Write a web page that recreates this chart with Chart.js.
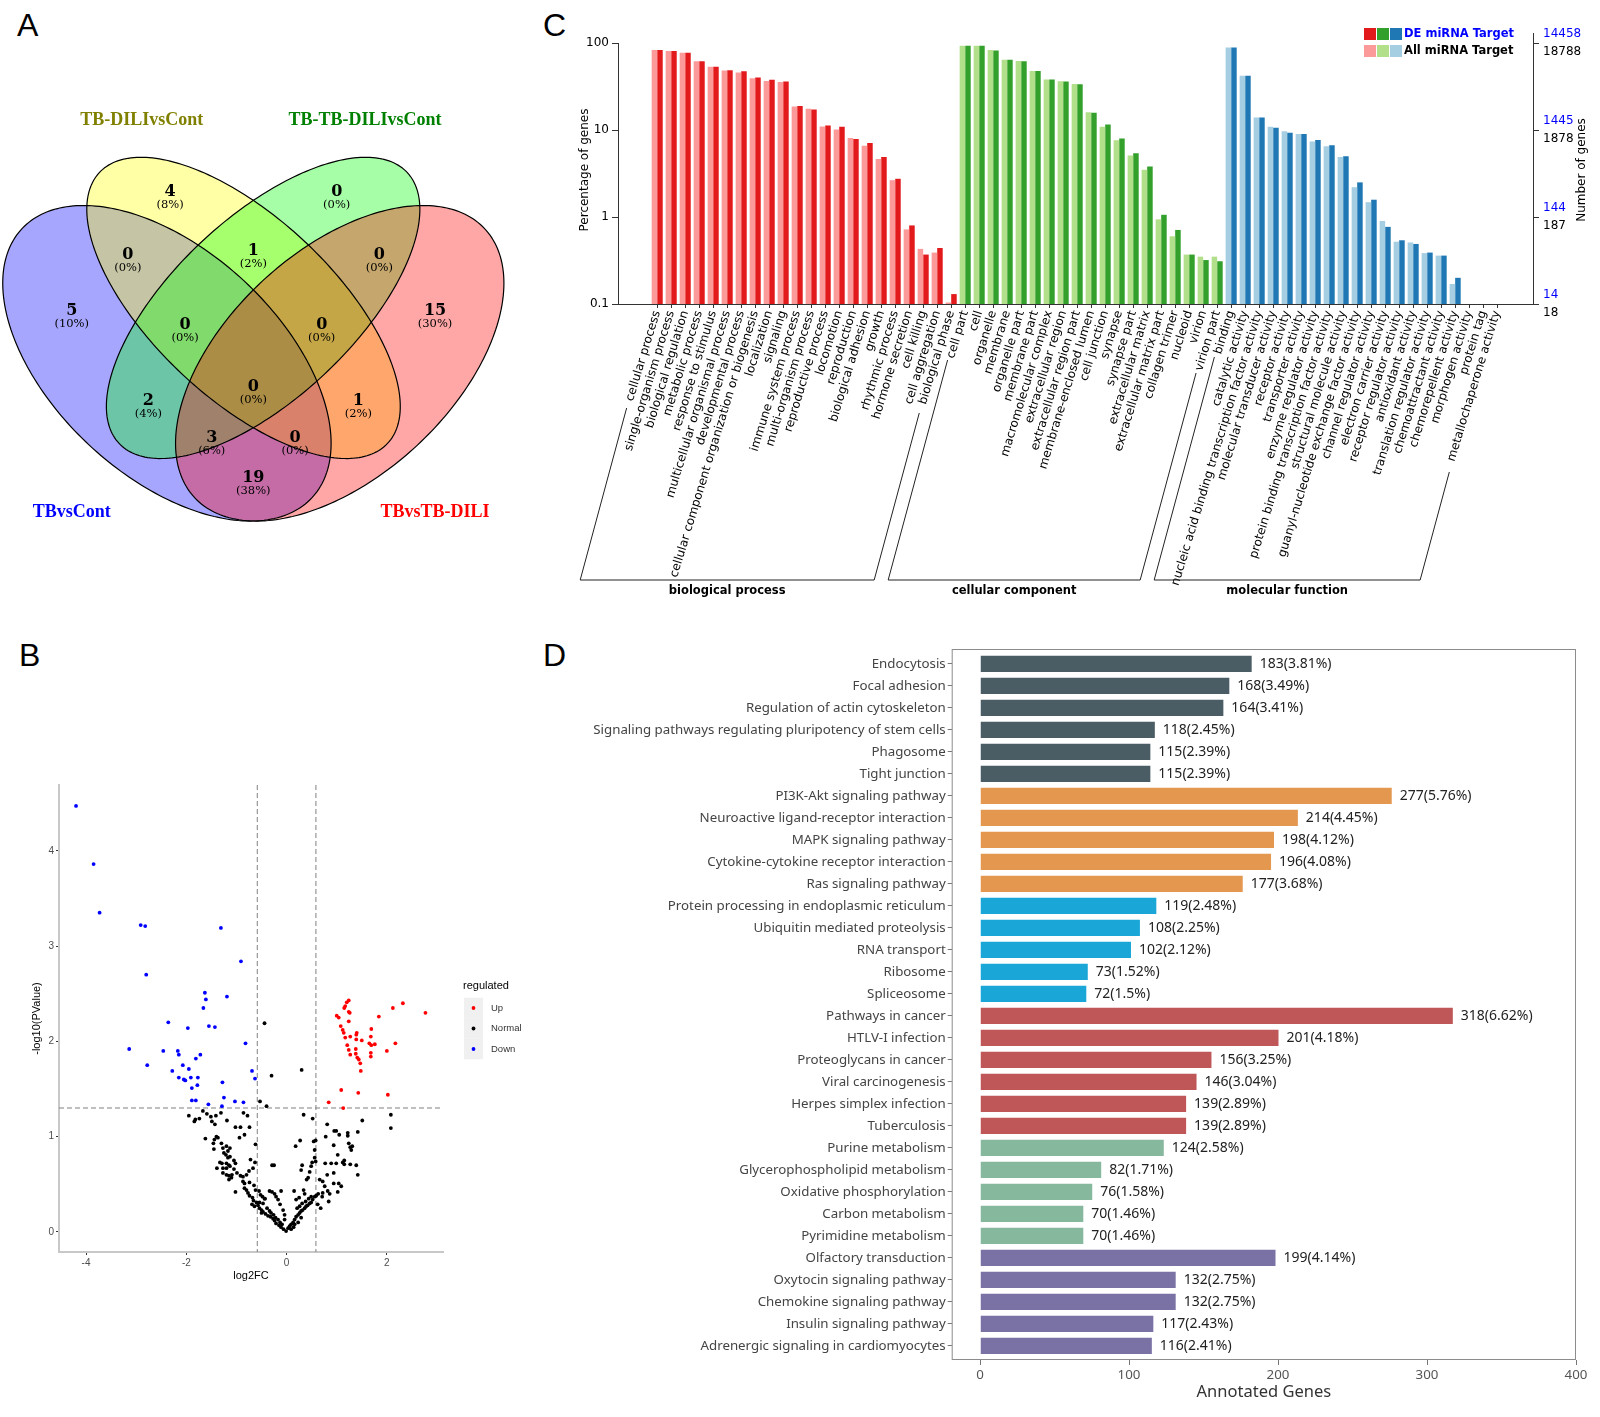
<!DOCTYPE html>
<html>
<head>
<meta charset="utf-8">
<title>miRNA target figure</title>
<script src="https://cdn.jsdelivr.net/npm/chart.js@4.4.0/dist/chart.umd.min.js"></script>
<style>
  body { margin: 0; background: #fff; width: 1600px; height: 1417px; position: relative; overflow: hidden; }
  .box { position: absolute; }
  .tag { position: absolute; font: 32px "Liberation Sans", Arial, sans-serif; color: #000; }
</style>
</head>
<body>
<div class="tag" style="left:17px;top:7px">A</div>
<div class="tag" style="left:19px;top:637px">B</div>
<div class="tag" style="left:543px;top:7px">C</div>
<div class="tag" style="left:543px;top:637px">D</div>

<div class="box" style="left:0;top:0;width:540px;height:540px"><canvas id="venn"></canvas></div>
<div class="box" style="left:0;top:760px;width:540px;height:530px"><canvas id="volcano"></canvas></div>
<div class="box" style="left:540px;top:0;width:1060px;height:600px"><canvas id="go"></canvas></div>
<div class="box" style="left:540px;top:620px;width:1060px;height:790px"><canvas id="kegg"></canvas></div>

<script>
// ---------- A: Venn diagram (4 sets) ----------
const vennSets = ['TBvsCont', 'TB-DILIvsCont', 'TB-TB-DILIvsCont', 'TBvsTB-DILI'];
const vennFill = ['#0000ff', '#ffff00', '#00ff00', '#ff0000'];
const vennNameColor = ['#0000ff', '#808000', '#008000', '#ff0000'];
const vennNameX = [0.1847, 0.3062, 0.6939, 0.8155];
const vennNameY = [0.2012, 0.908, 0.908, 0.2012];
// ellipse layout, in the diagram's own 0..1 units
const ellipseX = [0.35, 0.483, 0.517, 0.65];
const ellipseY = [0.47, 0.57, 0.57, 0.47];
const ellipseA = [0.35, 0.35, 0.35, 0.35];
const ellipseB = [0.20, 0.16, 0.16, 0.20];
const ellipseRot = [-45, -45, 45, 45];
// region counts and where they sit
const regionCounts = [4, 0, 0, 1, 0, 5, 15, 0, 0, 0, 2, 1, 3, 0, 19];
const regionX = [0.3554, 0.6448, 0.2820, 0.5, 0.7188, 0.1847, 0.8155, 0.3814, 0.6187, 0.5, 0.3177, 0.6823, 0.4278, 0.5724, 0.5];
const regionY = [0.7691, 0.7691, 0.6547, 0.6619, 0.6547, 0.5541, 0.5541, 0.5283, 0.5283, 0.4162, 0.3909, 0.3909, 0.3241, 0.3241, 0.2518];

// ---------- B: volcano plot ----------
const fcCut = 0.585;
const pCut = 1.301;
const upPoints = [[1.00,2.27],[1.04,2.25],[1.24,2.43],[1.20,2.41],[1.17,2.37],[1.15,2.35],[1.24,2.31],[1.26,2.30],[1.24,2.21],[1.08,2.16],[1.12,2.12],[1.14,2.09],[1.17,2.04],[1.27,2.05],[1.40,2.09],[1.39,2.07],[1.50,2.01],[1.39,2.02],[1.69,2.13],[1.68,2.05],[1.84,2.26],[2.12,2.35],[2.32,2.40],[2.77,2.30],[1.65,1.98],[1.69,1.96],[1.76,1.97],[2.17,1.98],[2.00,1.90],[1.68,1.88],[1.68,1.84],[1.21,1.96],[1.24,1.91],[1.38,1.92],[1.27,1.86],[1.38,1.87],[1.41,1.83],[1.44,1.81],[1.47,1.77],[1.48,1.69],[1.09,1.49],[1.43,1.46],[0.84,1.36],[1.13,1.30],[2.02,1.44]];
const downPoints = [[-4.20,4.47],[-3.85,3.86],[-3.73,3.35],[-2.91,3.22],[-2.82,3.21],[-1.31,3.19],[-0.91,2.84],[-2.80,2.70],[-1.63,2.51],[-1.61,2.44],[-1.19,2.47],[-1.66,2.35],[-2.36,2.20],[-1.97,2.14],[-1.55,2.16],[-1.43,2.15],[-0.82,1.98],[-3.14,1.92],[-2.46,1.90],[-2.17,1.90],[-2.15,1.86],[-1.72,1.86],[-1.81,1.82],[-2.78,1.75],[-2.07,1.75],[-2.28,1.69],[-1.95,1.71],[-2.15,1.62],[-2.05,1.60],[-2.02,1.59],[-1.91,1.62],[-1.77,1.62],[-1.78,1.54],[-1.89,1.51],[-1.28,1.57],[-1.89,1.38],[-1.81,1.38],[-1.56,1.34],[-1.29,1.32],[-1.25,1.41],[-1.03,1.37],[-0.86,1.36],[-0.69,1.69],[-0.63,1.61]];
const normalPoints = [[-0.44,2.19],[0.30,1.70],[-0.30,1.64],[-0.53,1.37],[-0.40,1.32],
  [-1.95,1.22],[-1.84,1.16],[-1.82,1.18],[-1.74,1.19],[-1.67,1.27],[-1.59,1.24],[-1.51,1.21],[-1.49,1.16],[-1.41,1.22],[-1.43,1.13],[-1.31,1.25],[-1.19,1.17],[-1.02,1.10],[-0.86,1.25],[-0.78,1.22],[-0.92,1.10],[-0.74,1.10],[-0.84,1.02],[-0.94,0.99],[-1.62,0.98],[-1.44,0.97],[-1.40,1.00],[-1.37,0.99],[-1.46,0.93],[-1.45,0.87],[-1.30,0.93],[-1.27,0.88],[-1.20,0.90],[-1.17,0.85],[-1.13,0.88],[-1.25,0.83],[-1.21,0.81],[-1.17,0.78],[-1.13,0.79],[-1.33,0.73],[-1.29,0.72],[-1.20,0.72],[-1.15,0.70],[-1.05,0.75],[-1.02,0.72],[-1.39,0.67],[-1.27,0.67],[-1.20,0.67],[-1.13,0.69],[-1.05,0.66],[-1.27,0.62],[-1.20,0.60],[-1.15,0.59],[-1.09,0.60],[-1.15,0.55],[-1.10,0.57],[-0.99,0.62],[-0.92,0.59],[-0.87,0.58],[-0.80,0.60],[-0.75,0.64],[-0.72,0.76],[-0.63,0.73],[-0.67,0.67],[-0.62,0.92],[-1.02,0.42],[-0.87,0.53],[-0.84,0.51],[-0.84,0.46],[-0.80,0.44],[-0.77,0.41],[-0.74,0.38],[-0.68,0.36],[-0.66,0.33],[-0.60,0.31],[-0.57,0.28],[-0.54,0.25],[-0.50,0.23],[-0.47,0.21],[-0.42,0.19],[-0.37,0.17],[-0.32,0.16],[-0.27,0.14],[-0.24,0.12],[-0.21,0.09],[-0.15,0.07],[-0.11,0.05],[-0.06,0.03],[-0.01,0.01],[-0.65,0.49],[-0.62,0.44],[-0.55,0.43],[-0.52,0.39],[-0.48,0.37],[-0.44,0.35],[-0.74,0.52],[-0.69,0.29],[-0.64,0.27],[-0.54,0.31],[-0.50,0.20],[-0.39,0.25],[-0.34,0.22],[-0.31,0.20],[-0.26,0.18],[-0.22,0.15],[-0.17,0.13],[-0.13,0.10],[-0.09,0.08],[-0.34,0.43],[-0.29,0.42],[-0.29,0.70],[-0.25,0.70],[-0.24,0.40],[-0.21,0.37],[-0.11,0.43],[-0.17,0.34],[-0.13,0.29],[-0.07,0.23],[-0.04,0.18],[-0.04,0.13],[-0.43,0.35],[-0.47,0.30],
  [0.15,0.43],[0.19,0.34],[0.25,0.36],[0.18,0.90],[0.27,0.96],[0.29,0.65],[0.31,0.70],[0.34,1.23],[0.34,0.44],[0.36,0.40],[0.40,0.55],[0.43,0.57],[0.46,0.63],[0.49,0.69],[0.51,0.73],[0.52,1.19],[0.54,0.95],[0.58,0.96],[0.56,0.86],[0.58,0.74],[0.56,0.78],[0.56,0.37],[0.59,0.38],[0.63,0.40],[0.66,0.55],[0.68,0.25],[0.72,0.53],[0.76,0.48],[0.71,0.37],[0.72,0.41],[0.77,0.72],[0.78,1.00],[0.81,1.13],[0.81,0.60],[0.82,0.43],[0.86,0.40],[0.84,0.32],[0.89,0.72],[0.94,0.91],[0.94,0.62],[0.94,0.51],[0.95,1.06],[0.99,1.06],[0.99,0.72],[1.02,0.81],[1.05,1.02],[1.04,0.51],[1.09,0.48],[1.02,0.42],[1.12,0.73],[1.15,0.75],[1.15,0.71],[1.22,1.04],[1.22,1.01],[1.24,0.93],[1.27,0.89],[1.31,0.90],[1.29,0.86],[1.27,0.71],[1.39,0.70],[1.42,0.60],[1.42,1.05],[1.51,1.17],[2.08,1.23],[2.08,1.09],
  [0.06,0.06],[0.09,0.08],[0.13,0.10],[0.16,0.13],[0.19,0.16],[0.23,0.18],[0.26,0.20],[0.29,0.22],[0.32,0.23],[0.36,0.25],[0.39,0.27],[0.42,0.28],[0.46,0.30],[0.49,0.31],[0.52,0.34],[0.16,0.08],[0.23,0.10],[0.29,0.15],[0.09,0.03],[0.14,0.05],[0.21,0.25],[0.26,0.27],[0.31,0.30],[0.38,0.32],[0.44,0.35],[0.49,0.37],[0.03,0.04],[0.62,0.29]];

// ---------- C: GO classification ----------
const bpTerms = ['cellular process', 'single-organism process', 'biological regulation', 'metabolic process', 'response to stimulus', 'multicellular organismal process', 'developmental process', 'cellular component organization or biogenesis', 'localization', 'signaling', 'immune system process', 'multi-organism process', 'reproductive process', 'locomotion', 'reproduction', 'biological adhesion', 'growth', 'rhythmic process', 'hormone secretion', 'cell killing', 'cell aggregation', 'biological phase'];
const bpAll = [83, 81, 77.5, 61.6, 53.5, 48.2, 45.7, 39.3, 36.6, 35.7, 18.6, 17.5, 11.0, 10.1, 8.1, 6.6, 4.65, 2.65, 0.72, 0.43, 0.39, 0.104];
const bpDE = [83, 81, 77.5, 61.6, 53.5, 48.6, 47.2, 40.0, 37.9, 36.0, 18.9, 17.2, 11.3, 10.9, 7.9, 7.1, 4.9, 2.75, 0.80, 0.37, 0.44, 0.13];
const ccTerms = ['cell part', 'cell', 'organelle', 'membrane', 'organelle part', 'membrane part', 'macromolecular complex', 'extracellular region', 'extracellular region part', 'membrane-enclosed lumen', 'cell junction', 'synapse', 'synapse part', 'extracellular matrix', 'extracellular matrix part', 'collagen trimer', 'nucleoid', 'virion', 'virion part'];
const ccAll = [93, 93, 83, 64, 62, 47.7, 38, 36.3, 33.8, 16, 10.9, 7.6, 5.1, 3.5, 0.94, 0.6, 0.37, 0.35, 0.35];
const ccDE = [93, 93, 82, 64, 61.6, 47.7, 38, 36, 33.5, 15.8, 11.6, 8.0, 5.4, 3.8, 1.06, 0.71, 0.37, 0.32, 0.31];
const mfTerms = ['binding', 'catalytic activity', 'nucleic acid binding transcription factor activity', 'molecular transducer activity', 'receptor activity', 'transporter activity', 'enzyme regulator activity', 'protein binding transcription factor activity', 'structural molecule activity', 'guanyl-nucleotide exchange factor activity', 'channel regulator activity', 'electron carrier activity', 'receptor regulator activity', 'antioxidant activity', 'translation regulator activity', 'chemoattractant activity', 'chemorepellent activity', 'morphogen activity', 'protein tag', 'metallochaperone activity'];
const mfAll = [88.5, 41.9, 13.9, 10.9, 9.7, 9.0, 7.4, 6.5, 4.9, 2.2, 1.48, 0.9, 0.52, 0.51, 0.385, 0.36, 0.17, null, null, null];
const mfDE = [88.5, 41.9, 13.9, 10.6, 9.3, 9.0, 7.7, 6.7, 5.0, 2.5, 1.58, 0.77, 0.54, 0.49, 0.39, 0.36, 0.20, null, null, null];
const goGroups = ['biological process', 'cellular component', 'molecular function'];
const goLight = ['#fb9a99', '#b2df8a', '#a6cee3'];
const goDark = ['#e31a1c', '#33a02c', '#1f78b4'];
const goTicks = [0.1, 1, 10, 100];
const goDECounts = ['14', '144', '1445', '14458'];
const goAllCounts = ['18', '187', '1878', '18788'];

// ---------- D: KEGG classification ----------
const keggNames = ['Endocytosis', 'Focal adhesion', 'Regulation of actin cytoskeleton', 'Signaling pathways regulating pluripotency of stem cells', 'Phagosome', 'Tight junction', 'PI3K-Akt signaling pathway', 'Neuroactive ligand-receptor interaction', 'MAPK signaling pathway', 'Cytokine-cytokine receptor interaction', 'Ras signaling pathway', 'Protein processing in endoplasmic reticulum', 'Ubiquitin mediated proteolysis', 'RNA transport', 'Ribosome', 'Spliceosome', 'Pathways in cancer', 'HTLV-I infection', 'Proteoglycans in cancer', 'Viral carcinogenesis', 'Herpes simplex infection', 'Tuberculosis', 'Purine metabolism', 'Glycerophospholipid metabolism', 'Oxidative phosphorylation', 'Carbon metabolism', 'Pyrimidine metabolism', 'Olfactory transduction', 'Oxytocin signaling pathway', 'Chemokine signaling pathway', 'Insulin signaling pathway', 'Adrenergic signaling in cardiomyocytes'];
const keggCounts = [183, 168, 164, 118, 115, 115, 277, 214, 198, 196, 177, 119, 108, 102, 73, 72, 318, 201, 156, 146, 139, 139, 124, 82, 76, 70, 70, 199, 132, 132, 117, 116];
const keggPct = ['3.81%', '3.49%', '3.41%', '2.45%', '2.39%', '2.39%', '5.76%', '4.45%', '4.12%', '4.08%', '3.68%', '2.48%', '2.25%', '2.12%', '1.52%', '1.5%', '6.62%', '4.18%', '3.25%', '3.04%', '2.89%', '2.89%', '2.58%', '1.71%', '1.58%', '1.46%', '1.46%', '4.14%', '2.75%', '2.75%', '2.43%', '2.41%'];
const keggGroup = [0,0,0,0,0,0, 1,1,1,1,1, 2,2,2,2,2, 3,3,3,3,3,3, 4,4,4,4,4, 5,5,5,5,5];
const keggColors = ['#4a5d65', '#e4984f', '#1ba6d8', '#bf5658', '#86b89d', '#7a72a5'];

Chart.defaults.animation = false;
Chart.defaults.plugins.legend.display = false;
Chart.defaults.plugins.tooltip.enabled = false;
Chart.defaults.font.family = '"DejaVu Sans", sans-serif';

// ---------- A ----------
const vennPlugin = {
  id: 'vennDraw',
  afterDraw(chart) {
    const { ctx, scales: { x, y } } = chart;
    const path = (i) => {
      const r = ellipseRot[i] * Math.PI / 180;
      ctx.beginPath();
      for (let k = 0; k <= 240; k++) {
        const t = k / 240 * Math.PI * 2;
        const u = ellipseA[i] * Math.cos(t), v = ellipseB[i] * Math.sin(t);
        const px = x.getPixelForValue(ellipseX[i] + u * Math.cos(r) - v * Math.sin(r));
        const py = y.getPixelForValue(ellipseY[i] + u * Math.sin(r) + v * Math.cos(r));
        if (k === 0) ctx.moveTo(px, py); else ctx.lineTo(px, py);
      }
      ctx.closePath();
    };
    ctx.save();
    ctx.globalAlpha = 0.35;
    vennFill.forEach((c, i) => { path(i); ctx.fillStyle = c; ctx.fill(); });
    ctx.globalAlpha = 1;
    ctx.strokeStyle = '#000';
    ctx.lineWidth = 1.2;
    vennFill.forEach((c, i) => { path(i); ctx.stroke(); });

    const total = regionCounts.reduce((a, b) => a + b, 0);
    ctx.fillStyle = '#000';
    ctx.textAlign = 'center';
    ctx.textBaseline = 'middle';
    regionCounts.forEach((n, i) => {
      const px = x.getPixelForValue(regionX[i]), py = y.getPixelForValue(regionY[i]);
      ctx.font = 'bold 16px "DejaVu Serif", serif';
      ctx.fillText(String(n), px, py - 6);
      ctx.font = '11.5px "DejaVu Serif", serif';
      ctx.fillText('(' + Math.round(n / total * 100) + '%)', px, py + 7);
    });
    ctx.font = 'bold 18px "Liberation Serif", serif';
    vennSets.forEach((s, i) => {
      ctx.fillStyle = vennNameColor[i];
      ctx.fillText(s, x.getPixelForValue(vennNameX[i]), y.getPixelForValue(vennNameY[i]));
    });
    ctx.restore();
  }
};

new Chart(document.getElementById('venn'), {
  type: 'scatter',
  data: { datasets: [] },
  options: {
    responsive: true, maintainAspectRatio: false,
    layout: { padding: 0 },
    scales: {
      x: { type: 'linear', display: false, min: 0.0602, max: 0.9977 },
      y: { type: 'linear', display: false, min: 0.1507, max: 1.1263 }
    }
  },
  plugins: [vennPlugin]
});

// ---------- B ----------
const volcanoPlugin = {
  id: 'volcanoExtras',
  beforeDatasetsDraw(chart) {
    const { ctx, chartArea: a, scales: { x, y } } = chart;
    ctx.save();
    ctx.strokeStyle = '#808080';
    ctx.lineWidth = 1;
    ctx.setLineDash([5, 3]);
    [-fcCut, fcCut].forEach(v => {
      const px = x.getPixelForValue(v);
      ctx.beginPath(); ctx.moveTo(px, a.top); ctx.lineTo(px, a.bottom); ctx.stroke();
    });
    const py = y.getPixelForValue(pCut);
    ctx.beginPath(); ctx.moveTo(a.left, py); ctx.lineTo(a.right, py); ctx.stroke();
    ctx.restore();
  },
  afterDraw(chart) {
    const { ctx, chartArea: a } = chart;
    ctx.save();
    ctx.fillStyle = '#000';
    ctx.font = '11px "Liberation Sans", Arial, sans-serif';
    ctx.textAlign = 'center';
    ctx.textBaseline = 'middle';
    ctx.fillText('log2FC', (a.left + a.right) / 2, 516);
    ctx.translate(37, (a.top + a.bottom) / 2);
    ctx.rotate(-Math.PI / 2);
    ctx.fillText('-log10(PValue)', 0, 0);
    ctx.restore();

    ctx.save();
    ctx.font = '11px "Liberation Sans", Arial, sans-serif';
    ctx.textBaseline = 'middle';
    ctx.fillStyle = '#000';
    ctx.fillText('regulated', 463, 226);
    chart.data.datasets.forEach((d, i) => {
      const cy = 248 + i * 20.5;
      ctx.fillStyle = '#f0f0f0';
      ctx.fillRect(464, cy - 10.25, 19, 20.5);
      ctx.fillStyle = d.backgroundColor;
      ctx.beginPath(); ctx.arc(473.5, cy, 1.9, 0, Math.PI * 2); ctx.fill();
      ctx.fillStyle = '#333';
      ctx.font = '9.5px "Liberation Sans", Arial, sans-serif';
      ctx.fillText(d.label, 491, cy);
    });
    ctx.restore();
  }
};

const toXY = pts => pts.map(p => ({ x: p[0], y: p[1] }));
const volcanoAxis = (min, max, step, fit) => ({
  type: 'linear', min, max,
  afterFit: fit,
  ticks: { stepSize: step, includeBounds: false, color: '#4d4d4d', font: { size: 10, family: '"Liberation Sans", Arial, sans-serif' }, padding: 2 },
  grid: { drawOnChartArea: false, tickLength: 3, color: '#333' },
  border: { color: '#c8c8c8', width: 2 }
});

new Chart(document.getElementById('volcano'), {
  type: 'scatter',
  data: {
    datasets: [
      { label: 'Up', data: toXY(upPoints), backgroundColor: '#ff0000', pointRadius: 1.9, borderWidth: 0 },
      { label: 'Normal', data: toXY(normalPoints), backgroundColor: '#000000', pointRadius: 1.9, borderWidth: 0 },
      { label: 'Down', data: toXY(downPoints), backgroundColor: '#0000ff', pointRadius: 1.9, borderWidth: 0 }
    ]
  },
  options: {
    responsive: true, maintainAspectRatio: false,
    layout: { padding: { top: 25, right: 97, left: 0, bottom: 0 } },
    scales: {
      x: volcanoAxis(-4.54, 3.12, 2, s => { s.height = 38; }),
      y: volcanoAxis(-0.21, 4.69, 1, s => { s.width = 59; })
    }
  },
  plugins: [volcanoPlugin]
});

// ---------- C ----------
const goTerms = [...bpTerms, ...ccTerms, ...mfTerms];
const goAll = [...bpAll, ...ccAll, ...mfAll];
const goDE = [...bpDE, ...ccDE, ...mfDE];
const goGroupOf = goTerms.map((t, i) => i < bpTerms.length ? 0 : (i < bpTerms.length + ccTerms.length ? 1 : 2));
const groupStart = [0, bpTerms.length, bpTerms.length + ccTerms.length];
const groupEnd = [bpTerms.length - 1, bpTerms.length + ccTerms.length - 1, goTerms.length - 1];
const bracketTopY = [[408, 413], [360, 373], [357, 472]];

const goPlugin = {
  id: 'goExtras',
  afterDraw(chart) {
    const { ctx, chartArea: a, scales: { x, y } } = chart;
    ctx.save();
    // right axis labels (DE count above, All count below)
    ctx.font = '12px "DejaVu Sans", sans-serif';
    ctx.textAlign = 'left';
    ctx.textBaseline = 'middle';
    goTicks.forEach((t, i) => {
      const py = y.getPixelForValue(t);
      ctx.fillStyle = '#0000ff';
      ctx.fillText(goDECounts[i], a.right + 10, py - 9);
      ctx.fillStyle = '#000';
      ctx.fillText(goAllCounts[i], a.right + 10, py + 9);
    });
    ctx.strokeStyle = '#333';
    ctx.lineWidth = 1;
    ctx.beginPath(); ctx.moveTo(a.right + 0.5, a.top); ctx.lineTo(a.right + 0.5, a.top - 10); ctx.stroke();

    // axis titles
    ctx.fillStyle = '#000';
    ctx.textAlign = 'center';
    ctx.save();
    ctx.translate(45, 170); ctx.rotate(-Math.PI / 2);
    ctx.fillText('Percentage of genes', 0, 0);
    ctx.restore();
    ctx.save();
    ctx.translate(1042, 170); ctx.rotate(-Math.PI / 2);
    ctx.fillText('Number of genes', 0, 0);
    ctx.restore();

    // legend
    const lx = 824;
    [28, 45].forEach((ly, row) => {
      const cols = row === 0 ? goDark : goLight;
      cols.forEach((c, k) => { ctx.fillStyle = c; ctx.fillRect(lx + k * 13, ly, 12, 12); });
    });
    ctx.font = 'bold 11.5px "DejaVu Sans", sans-serif';
    ctx.textAlign = 'left';
    ctx.fillStyle = '#0000ff';
    ctx.fillText('DE miRNA Target', lx + 40, 34);
    ctx.fillStyle = '#000';
    ctx.fillText('All miRNA Target', lx + 40, 51);

    // group brackets
    ctx.strokeStyle = '#222';
    ctx.lineWidth = 1;
    const slope = 0.27, baseY = 580;
    goGroups.forEach((g, i) => {
      const x0 = x.getPixelForValue(groupStart[i]) - 77;
      const x1 = x.getPixelForValue(groupEnd[i]) - 77;
      ctx.beginPath();
      ctx.moveTo(x0 + (baseY - bracketTopY[i][0]) * slope, bracketTopY[i][0]);
      ctx.lineTo(x0, baseY);
      ctx.lineTo(x1, baseY);
      ctx.lineTo(x1 + (baseY - bracketTopY[i][1]) * slope, bracketTopY[i][1]);
      ctx.stroke();
      ctx.font = 'bold 11.5px "DejaVu Sans", sans-serif';
      ctx.textAlign = 'center';
      ctx.fillStyle = '#000';
      ctx.fillText(g, (x0 + x1) / 2, 591);
    });
    ctx.restore();
  }
};

const logTicks = s => { s.ticks = goTicks.map(v => ({ value: v })); };

new Chart(document.getElementById('go'), {
  type: 'bar',
  data: {
    datasets: [
      { label: 'All miRNA Target', data: goAll.map((v, i) => ({ x: i, y: v })), backgroundColor: goGroupOf.map(g => goLight[g]), categoryPercentage: 0.79, barPercentage: 1 },
      { label: 'DE miRNA Target', data: goDE.map((v, i) => ({ x: i, y: v })), backgroundColor: goGroupOf.map(g => goDark[g]), categoryPercentage: 0.79, barPercentage: 1 }
    ]
  },
  options: {
    responsive: true, maintainAspectRatio: false,
    layout: { padding: { top: 43, left: 0, right: 0, bottom: 0 } },
    scales: {
      x: {
        type: 'linear', min: -2.8, max: 62.56, offset: false,
        afterFit: s => { s.height = 296; },
        afterBuildTicks: s => { s.ticks = goTerms.map((t, i) => ({ value: i })); },
        ticks: { autoSkip: false, minRotation: 73, maxRotation: 73, color: '#000', padding: 1,
                 font: { size: 12 }, callback: v => goTerms[v] },
        grid: { drawOnChartArea: false, offset: false, tickLength: 4, color: '#333' },
        border: { color: '#333' }
      },
      y: {
        type: 'logarithmic', min: 0.1, max: 100, position: 'left',
        afterFit: s => { s.width = 78; },
        afterBuildTicks: logTicks,
        ticks: { color: '#000', font: { size: 12 }, callback: v => String(v) },
        grid: { drawOnChartArea: false, tickLength: 6, color: '#333' },
        border: { color: '#333' }
      },
      y2: {
        type: 'logarithmic', min: 0.1, max: 100, position: 'right',
        afterFit: s => { s.width = 67; },
        afterBuildTicks: logTicks,
        ticks: { callback: () => '' },
        grid: { drawOnChartArea: false, tickLength: 6, color: '#333' },
        border: { color: '#333' }
      }
    }
  },
  plugins: [goPlugin]
});

// ---------- D ----------
const keggPlugin = {
  id: 'keggExtras',
  afterDatasetsDraw(chart) {
    const { ctx, chartArea: a } = chart;
    const meta = chart.getDatasetMeta(0);
    ctx.save();
    ctx.strokeStyle = '#8c8c8c';
    ctx.lineWidth = 1;
    ctx.strokeRect(a.left + 0.5, a.top + 0.5, a.right - a.left - 1, a.bottom - a.top - 1);
    ctx.font = '14px "Noto Sans", sans-serif';
    ctx.fillStyle = '#222';
    ctx.textBaseline = 'middle';
    meta.data.forEach((bar, i) => {
      ctx.fillText(keggCounts[i] + '(' + keggPct[i] + ')', bar.x + 7, bar.y);
    });
    ctx.font = '16.5px "Noto Sans", sans-serif';
    ctx.fillStyle = '#333';
    ctx.textAlign = 'center';
    ctx.fillText('Annotated Genes', (a.left + a.right) / 2, 772);
    ctx.restore();
  }
};

new Chart(document.getElementById('kegg'), {
  type: 'bar',
  data: {
    datasets: [{
      data: keggCounts.map((v, i) => ({ x: v, y: i })),
      backgroundColor: keggGroup.map(g => keggColors[g]),
      borderColor: 'rgba(255,255,255,0.55)', borderWidth: 1,
      barPercentage: 0.83, categoryPercentage: 1
    }]
  },
  options: {
    indexAxis: 'y',
    responsive: true, maintainAspectRatio: false,
    layout: { padding: { top: 29, right: 24, left: 0, bottom: 0 } },
    scales: {
      x: {
        type: 'linear', min: -19, max: 400,
        afterFit: s => { s.height = 50; },
        ticks: { stepSize: 100, includeBounds: false, color: '#555', font: { size: 13.3, family: '"Noto Sans", sans-serif' }, padding: 2 },
        grid: { drawOnChartArea: false, tickLength: 5, color: '#777' },
        border: { display: false }
      },
      y: {
        type: 'linear', reverse: true, min: -0.68, max: 31.64, offset: false,
        afterFit: s => { s.width = 411.7; },
        afterBuildTicks: s => { s.ticks = keggNames.map((n, i) => ({ value: i })); },
        ticks: { autoSkip: false, color: '#444', font: { size: 13.3, family: '"Noto Sans", sans-serif' }, padding: 2, callback: v => keggNames[v] },
        grid: { drawOnChartArea: false, offset: false, tickLength: 4, color: '#777' },
        border: { display: false }
      }
    }
  },
  plugins: [keggPlugin]
});
</script>
</body>
</html>
